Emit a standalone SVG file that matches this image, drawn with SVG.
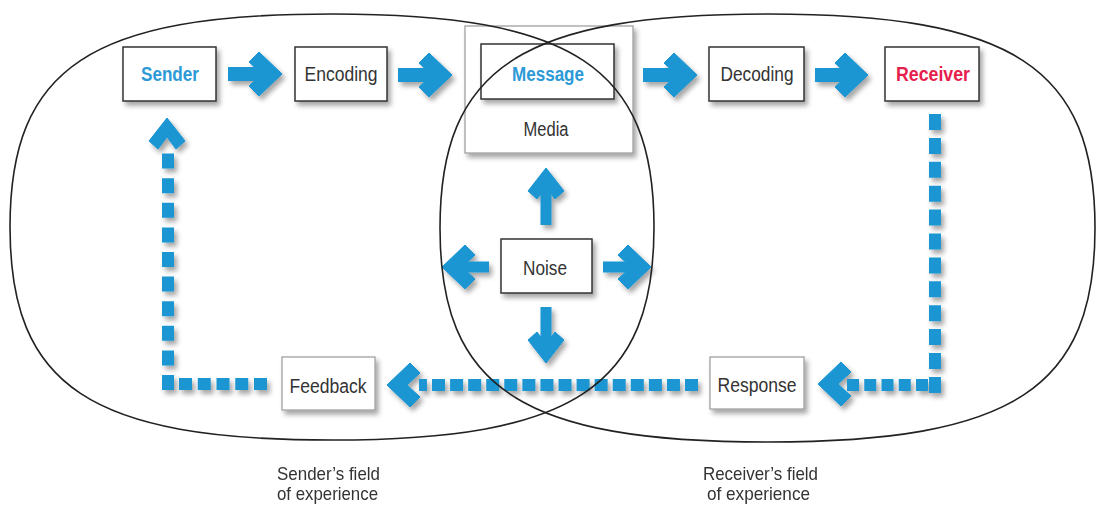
<svg xmlns="http://www.w3.org/2000/svg" xmlns:xlink="http://www.w3.org/1999/xlink" width="1098" height="507" viewBox="0 0 1098 507">
  <defs>
    <filter id="sh" x="-30%" y="-30%" width="160%" height="160%">
      <feDropShadow dx="3" dy="4" stdDeviation="2.5" flood-color="#000" flood-opacity="0.35"/>
    </filter>
    <path id="hr" d="M0,0 L-23,-22 L-33,-12 L-20,0 L-33,12 L-23,22 Z"/>
    <path id="hu" d="M0,0 L18,23 L9,31 L0,19 L-9,31 L-18,23 Z"/>
    <style>
      .box { fill: #fff; stroke: #333; stroke-width: 1.5; filter: url(#sh); }
      .box.light { stroke: #999; stroke-width: 1.2; }
      .t { font-family: "Liberation Sans", Arial, sans-serif; font-size: 20px; fill: #333; text-anchor: middle; }
      .blue { fill: #2d9ad8; font-weight: bold; }
      .red { fill: #e61e4d; font-weight: bold; }
      .cap { font-family: "Liberation Sans", Arial, sans-serif; font-size: 19px; fill: #333; }
      .arrow { fill: #1a95d3; stroke: #1a95d3; filter: url(#sh); }
      .shaft { fill: none; stroke: #1a95d3; stroke-width: 14; }
      .vshaft { fill: none; stroke: #1a95d3; stroke-width: 11; }
      .dh { fill: none; stroke: #1a95d3; stroke-width: 12; }
      .field { fill: none; stroke: #222; stroke-width: 1.6; }
    </style>
  </defs>
  <rect width="1098" height="507" fill="#fff"/>

  <g id="media">
    <rect class="box light" x="465" y="26" width="168" height="127"/>
    <text class="t" x="546" y="136" textLength="45" lengthAdjust="spacingAndGlyphs">Media</text>
  </g>
  <g id="message">
    <rect class="box" x="481" y="44" width="133" height="55"/>
    <text class="t blue" x="548" y="81" textLength="72" lengthAdjust="spacingAndGlyphs">Message</text>
  </g>
  <g id="sender">
    <rect class="box" x="123" y="47" width="93" height="54"/>
    <text class="t blue" x="170" y="81" textLength="58" lengthAdjust="spacingAndGlyphs">Sender</text>
  </g>
  <g id="encoding">
    <rect class="box" x="295" y="47" width="92" height="54"/>
    <text class="t" x="341" y="81" textLength="73" lengthAdjust="spacingAndGlyphs">Encoding</text>
  </g>
  <g id="decoding">
    <rect class="box" x="709" y="47" width="95" height="54"/>
    <text class="t" x="757" y="81" textLength="73" lengthAdjust="spacingAndGlyphs">Decoding</text>
  </g>
  <g id="receiver">
    <rect class="box" x="885" y="47" width="94" height="54"/>
    <text class="t red" x="933" y="81" textLength="74" lengthAdjust="spacingAndGlyphs">Receiver</text>
  </g>
  <g id="noise">
    <rect class="box" x="501" y="239" width="91" height="54"/>
    <text class="t" x="545" y="275" textLength="44" lengthAdjust="spacingAndGlyphs">Noise</text>
  </g>
  <g id="feedback">
    <rect class="box light" x="282" y="357" width="93" height="53"/>
    <text class="t" x="328" y="393" textLength="77" lengthAdjust="spacingAndGlyphs">Feedback</text>
  </g>
  <g id="response">
    <rect class="box light" x="710" y="357" width="94" height="52"/>
    <text class="t" x="757" y="392" textLength="79" lengthAdjust="spacingAndGlyphs">Response</text>
  </g>

  <g id="connectors">
    <g class="arrow">
      <line class="shaft" x1="228" y1="74" x2="263" y2="74"/>
      <use xlink:href="#hr" href="#hr" transform="translate(282,74)"/>
    </g>
    <g class="arrow">
      <line class="shaft" x1="398" y1="75" x2="433" y2="75"/>
      <use xlink:href="#hr" href="#hr" transform="translate(452,75)"/>
    </g>
    <g class="arrow">
      <line class="shaft" x1="643" y1="75" x2="678" y2="75"/>
      <use xlink:href="#hr" href="#hr" transform="translate(697,75)"/>
    </g>
    <g class="arrow">
      <line class="shaft" x1="815" y1="75" x2="849" y2="75"/>
      <use xlink:href="#hr" href="#hr" transform="translate(868,75)"/>
    </g>
    <g class="arrow">
      <line class="vshaft" x1="546" y1="225" x2="546" y2="186"/>
      <use xlink:href="#hu" href="#hu" transform="translate(546,168)"/>
    </g>
    <g class="arrow">
      <line class="vshaft" x1="546" y1="307" x2="546" y2="345"/>
      <use xlink:href="#hu" href="#hu" transform="translate(546,363) rotate(180)"/>
    </g>
    <g class="arrow">
      <line class="vshaft" x1="489" y1="267" x2="461" y2="267"/>
      <use xlink:href="#hr" href="#hr" transform="translate(442,267) rotate(180)"/>
    </g>
    <g class="arrow">
      <line class="vshaft" x1="603" y1="267" x2="632" y2="267"/>
      <use xlink:href="#hr" href="#hr" transform="translate(651,267)"/>
    </g>
    <g class="arrow">
      <path class="dh" d="M935,114 V393" stroke-dasharray="16 7.9"/>
      <path class="dh" d="M928,385 H847" stroke-dasharray="12 5.25"/>
      <use xlink:href="#hr" href="#hr" transform="translate(818,384) rotate(180)"/>
    </g>
    <g class="arrow">
      <path class="dh" d="M698,385 H419" stroke-dasharray="13 5.07"/>
      <use xlink:href="#hr" href="#hr" transform="translate(387,385) rotate(180)"/>
    </g>
    <g class="arrow">
      <path class="dh" d="M267,384 H179" stroke-dasharray="13 5.75"/>
      <path class="dh" d="M168,390 V153" stroke-dasharray="15 9.6"/>
      <use xlink:href="#hu" href="#hu" transform="translate(167,118)"/>
    </g>
  </g>

  <g id="fields">
    <path id="sender-field" class="field" d="M10,227 C10,67.25 90.5,14 332,14 C573.5,14 654,67.25 654,227 C654,386.75 573.5,440 332,440 C90.5,440 10,386.75 10,227 Z"/>
    <path id="receiver-field" class="field" d="M440,228 C440,67.5 521.9,14 767.5,14 C1013.1,14 1095,67.5 1095,228 C1095,388.5 1013.1,442 767.5,442 C521.9,442 440,388.5 440,228 Z"/>
  </g>

  <g id="captions">
    <text class="cap" x="277" y="480" textLength="103" lengthAdjust="spacingAndGlyphs">Sender’s field</text>
    <text class="cap" x="277" y="500" textLength="101" lengthAdjust="spacingAndGlyphs">of experience</text>
    <text class="cap" x="703" y="480" textLength="115" lengthAdjust="spacingAndGlyphs">Receiver’s field</text>
    <text class="cap" x="707" y="500" textLength="103" lengthAdjust="spacingAndGlyphs">of experience</text>
  </g>
</svg>
